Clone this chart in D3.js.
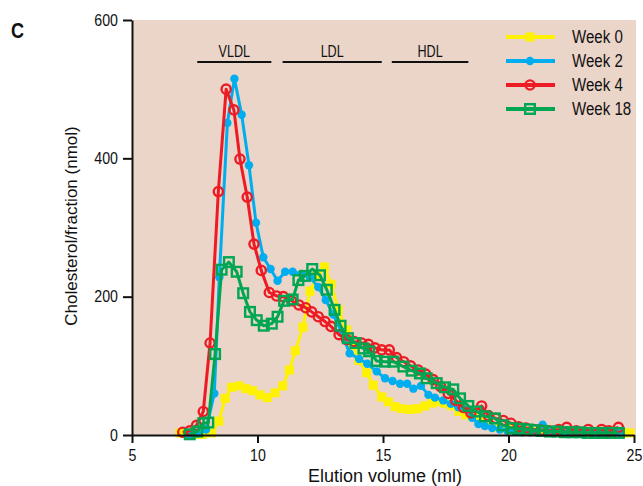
<!DOCTYPE html>
<html>
<head>
<meta charset="utf-8">
<script src="https://cdn.jsdelivr.net/npm/d3@7"></script>
<style>
  body { margin: 0; background: #fff; }
  svg { display: block; }
</style>
</head>
<body>
<svg id="chart" width="643" height="486"></svg>
<script>
const svg = d3.select("#chart");

const seriesNames = ["Week 0", "Week 2", "Week 4", "Week 18"];
const xTicks = [5, 10, 15, 20, 25];
const yTicks = [0, 200, 400, 600];
const bands = ["VLDL", "LDL", "HDL"];
const bandRanges = [[7.6, 10.55], [11.0, 14.95], [15.35, 18.4]];

// [elution ml, cholesterol nmol]
const week0 = [[6.91,3],[7.2,2],[7.5,1],[7.8,1],[8.16,3],[8.46,20],[8.71,53],[8.97,69],[9.27,71],[9.54,67],[9.81,64],[10.1,58],[10.39,54],[10.7,61],[11.0,71],[11.27,94],[11.51,122],[11.81,156],[12.09,208],[12.38,231],[12.67,243],[12.93,218],[13.22,181],[13.55,152],[13.8,130],[14.03,108],[14.35,90],[14.61,72],[14.95,55],[15.21,48],[15.48,41],[15.74,38],[16.08,37],[16.37,38],[16.67,42],[16.94,46],[17.2,48],[17.45,46],[17.72,42],[18.02,34],[18.3,29],[18.6,26],[18.9,20],[19.2,16],[19.45,11],[19.75,10],[20.05,8],[20.35,6],[20.65,6],[20.95,5],[21.25,5],[21.55,5],[21.85,4],[22.15,4],[22.45,4],[22.75,4],[23.05,4],[23.35,3],[23.65,3],[23.95,3],[24.25,3],[24.55,3],[24.84,3]];
const week2 = [[7.3,0],[7.6,2],[7.95,8],[8.28,60],[8.48,228],[8.8,451],[9.08,515],[9.37,463],[9.66,390],[9.94,307],[10.23,257],[10.52,240],[10.8,223],[11.1,236],[11.4,236],[11.76,233],[12.09,228],[12.42,214],[12.72,195],[13.02,174],[13.35,149],[13.67,118],[14.05,110],[14.37,103],[14.75,92],[15.08,82],[15.38,78],[15.68,74],[15.96,74],[16.21,67],[16.51,71],[16.81,58],[17.07,54],[17.4,50],[17.7,45],[18.0,40],[18.33,37],[18.55,25],[18.8,16],[19.06,13],[19.35,10],[19.65,8],[19.95,6],[20.25,5],[20.55,4],[20.85,4],[21.1,4],[21.36,15],[21.65,4],[22.0,3],[22.35,3],[22.7,3],[23.05,3],[23.4,3],[23.75,3],[24.1,3],[24.4,3]];
const week4 = [[7.02,4],[7.3,6],[7.57,14],[7.84,34],[8.11,133],[8.44,352],[8.75,500],[9.06,470],[9.3,399],[9.59,344],[9.86,276],[10.15,238],[10.47,206],[10.76,201],[11.03,200],[11.36,194],[11.65,188],[11.92,184],[12.16,178],[12.42,171],[12.69,164],[12.93,157],[13.25,145],[13.55,138],[13.85,135],[14.15,133],[14.42,131],[14.68,126],[14.95,123],[15.25,123],[15.54,112],[15.82,106],[16.1,100],[16.4,94],[16.7,88],[17.0,80],[17.3,70],[17.6,60],[17.9,50],[18.2,40],[18.5,32],[18.93,42],[19.2,28],[19.5,24],[19.79,21],[20.1,17],[20.4,12],[20.7,10],[21.0,8],[21.3,7],[21.6,6],[22.0,8],[22.32,11],[22.7,6],[23.18,8],[23.71,8],[24.0,6],[24.38,11]];
const week18 = [[7.3,1],[7.6,5],[7.84,17],[8.04,18],[8.31,117],[8.57,239],[8.86,250],[9.17,236],[9.43,205],[9.7,178],[9.97,166],[10.25,158],[10.57,161],[10.8,171],[11.06,194],[11.4,196],[11.63,224],[11.89,230],[12.18,240],[12.49,231],[12.76,210],[13.07,181],[13.31,158],[13.6,140],[13.9,133],[14.22,125],[14.45,121],[14.75,107],[15.08,106],[15.41,106],[15.81,99],[16.14,93],[16.47,89],[16.74,82],[17.14,75],[17.47,69],[17.8,66],[18.07,53],[18.4,42],[18.73,34],[19.06,27],[19.46,24],[19.79,14],[20.13,10],[20.45,9],[20.75,8],[21.05,7],[21.35,6],[21.65,5],[21.95,5],[22.25,4],[22.55,4],[22.85,4],[23.15,3],[23.45,3],[23.75,3],[24.05,3],[24.4,3]];

const seriesData = [week0, week2, week4, week18];
const colors = ["#fff200", "#00aeef", "#ed1c24", "#00a651"];
const markers = ["fsquare", "fcircle", "ocircle", "osquare"];

const font = "'Liberation Sans', Arial, sans-serif";

// no condensed face installed, so squeeze glyphs horizontally
function condense(sel, f) {
  sel.each(function () {
    const w = this.getComputedTextLength();
    d3.select(this).attr("textLength", w * f).attr("lengthAdjust", "spacingAndGlyphs");
  });
}

const x = d3.scaleLinear().domain([5, 25]).range([132, 634]);
const y = d3.scaleLinear().domain([0, 600]).range([435, 20]);

svg.append("rect")
  .attr("x", x(5))
  .attr("y", y(600))
  .attr("width", 636 - x(5))
  .attr("height", y(0) - y(600))
  .attr("fill", "#ebd4c8");

function drawMarker(g, kind, cx, cy, color) {
  if (kind === "fsquare") {
    g.append("rect").attr("x", cx - 4.5).attr("y", cy - 4.5)
      .attr("width", 9).attr("height", 9).attr("fill", color);
  } else if (kind === "fcircle") {
    g.append("circle").attr("cx", cx).attr("cy", cy).attr("r", 4.2).attr("fill", color);
  } else if (kind === "ocircle") {
    g.append("circle").attr("cx", cx).attr("cy", cy).attr("r", 4.6)
      .attr("fill", "none").attr("stroke", color).attr("stroke-width", 2.4);
  } else {
    g.append("rect").attr("x", cx - 4.8).attr("y", cy - 4.8)
      .attr("width", 9.6).attr("height", 9.6)
      .attr("fill", "none").attr("stroke", color).attr("stroke-width", 2.4);
  }
}

const line = d3.line().x(d => x(d[0])).y(d => y(d[1]));

seriesData.forEach((data, i) => {
  const g = svg.append("g");
  g.append("path")
    .attr("d", line(data))
    .attr("fill", "none")
    .attr("stroke", colors[i])
    .attr("stroke-width", 3)
    .attr("stroke-linejoin", "round");
  data.forEach(d => drawMarker(g, markers[i], x(d[0]), y(d[1]), colors[i]));
});

// lipoprotein bands
bands.forEach((name, i) => {
  const r = bandRanges[i];
  svg.append("line")
    .attr("x1", x(r[0])).attr("x2", x(r[1]))
    .attr("y1", 62).attr("y2", 62)
    .attr("stroke", "#111").attr("stroke-width", 2);
  svg.append("text")
    .attr("x", (x(r[0]) + x(r[1])) / 2)
    .attr("y", 57)
    .attr("text-anchor", "middle")
    .style("font-family", font)
    .style("font-size", "17px")
    .style("fill", "#111")
    .text(name)
    .call(condense, 0.74);
});

// axes
const yAxis = svg.append("g")
  .attr("transform", `translate(${x(5)},0)`)
  .call(d3.axisLeft(y).tickValues(yTicks).tickSize(9).tickSizeOuter(0).tickPadding(5));
const xAxis = svg.append("g")
  .attr("transform", `translate(0,${y(0)})`)
  .call(d3.axisBottom(x).tickValues(xTicks).tickSize(8).tickSizeOuter(0).tickPadding(6));

[yAxis, xAxis].forEach(a => {
  a.selectAll("path, line").attr("stroke", "#111").attr("stroke-width", 2);
  a.selectAll("text")
    .style("font-family", font)
    .style("font-size", "16.5px")
    .attr("fill", "#111")
    .call(condense, 0.86);
});

svg.append("text")
  .attr("transform", "translate(77,226) rotate(-90)")
  .attr("text-anchor", "middle")
  .style("font-family", font)
  .style("font-size", "17px")
  .style("fill", "#111")
  .text("Cholesterol/fraction (nmol)");

svg.append("text")
  .attr("x", 385)
  .attr("y", 482)
  .attr("text-anchor", "middle")
  .style("font-family", font)
  .style("font-size", "18px")
  .style("fill", "#111")
  .text("Elution volume (ml)");

svg.append("text")
  .attr("x", 11)
  .attr("y", 38)
  .style("font-family", font)
  .style("font-weight", "bold")
  .style("font-size", "22px")
  .style("fill", "#111")
  .text("C")
  .call(condense, 0.82);

// legend
seriesNames.forEach((name, i) => {
  const ly = 37 + i * 24;
  const g = svg.append("g");
  g.append("line")
    .attr("x1", 506).attr("x2", 555)
    .attr("y1", ly).attr("y2", ly)
    .attr("stroke", colors[i]).attr("stroke-width", 4);
  drawMarker(g, markers[i], 530, ly, colors[i]);
  g.append("text")
    .attr("x", 572)
    .attr("y", ly + 6)
    .style("font-family", font)
    .style("font-size", "17.5px")
    .style("fill", "#111")
    .text(name)
    .call(condense, 0.86);
});
</script>
</body>
</html>
